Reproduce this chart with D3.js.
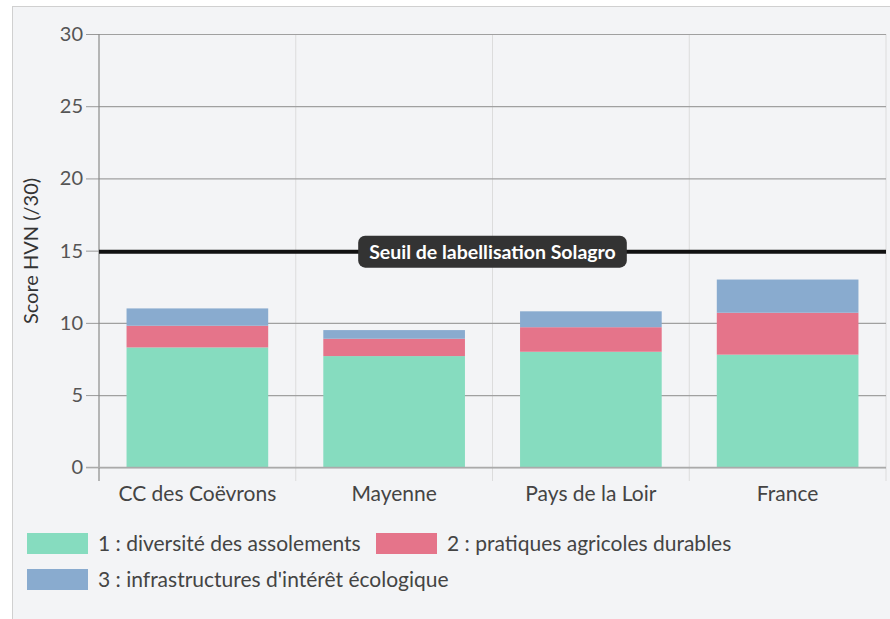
<!DOCTYPE html>
<html><head><meta charset="utf-8">
<script src="https://cdn.jsdelivr.net/npm/d3@7"></script>
<style>
html,body{margin:0;padding:0;background:#fff;}
svg{display:block;font-family:Lato, "Open Sans", sans-serif;}
</style></head>
<body><svg id="c" width="890" height="619"></svg>
<script>
const categories = ["CC des Coëvrons", "Mayenne", "Pays de la Loir", "France"];
const seriesNames = ["1 : diversité des assolements", "2 : pratiques agricoles durables", "3 : infrastructures d'intérêt écologique"];
const diversite = [8.3, 7.7, 8.0, 7.8];
const pratiques = [1.5, 1.2, 1.7, 2.9];
const infrastructures = [1.2, 0.6, 1.1, 2.3];
const yTicks = [0, 5, 10, 15, 20, 25, 30];
const threshold = 15;
const thresholdLabel = "Seuil de labellisation Solagro";
const yTitle = "Score HVN (/30)";
const colors = ["#86dcbf", "#e5748a", "#89abcf"];

const svg = d3.select("#c");
svg.append("rect").attr("x", 12.5).attr("y", 6.5).attr("width", 890).attr("height", 620)
  .attr("fill", "#f3f4f6").attr("stroke", "#d0d0d0");

const m = {l: 99, r: 886, t: 34, b: 467.3};
const x = d3.scaleBand().domain(categories).range([m.l, m.r]).paddingInner(0.28).paddingOuter(0.14);
const xb = d3.scaleBand().domain(categories).range([m.l, m.r]);
const y = d3.scaleLinear().domain([0, 30]).range([m.b, m.t]);

const rows = categories.map((c, i) => ({cat: c, s0: diversite[i], s1: pratiques[i], s2: infrastructures[i]}));
const stack = d3.stack().keys(["s0", "s1", "s2"])(rows);

// vertical grid lines (band boundaries)
const g = svg.append("g");
categories.forEach((c, i) => {
  const xx = xb(c) + xb.bandwidth();
  g.append("line").attr("x1", xx).attr("x2", xx).attr("y1", m.t).attr("y2", 481)
    .attr("stroke", "#dcdcdc").attr("stroke-width", 1);
});

// horizontal grid
const yAxis = d3.axisLeft(y).tickValues(yTicks).tickSize(13).tickPadding(3);
const ya = svg.append("g").attr("transform", `translate(${m.l},0)`).call(yAxis);
ya.select(".domain").remove();
ya.selectAll(".tick line").attr("stroke", "#999");
ya.selectAll(".tick text").attr("fill", "#555").attr("font-size", 20).attr("font-family", "Lato");
ya.selectAll(".tick").append("line").attr("x1", 0).attr("x2", m.r - m.l).attr("stroke", "#a0a0a0").attr("stroke-width", 1.2);

// bars
stack.forEach((layer, k) => {
  svg.append("g").attr("fill", colors[k]).selectAll("rect").data(layer).join("rect")
    .attr("x", d => x(d.data.cat)).attr("width", x.bandwidth())
    .attr("y", d => y(d[1])).attr("height", d => y(d[0]) - y(d[1]));
});

// y axis line
svg.append("line").attr("x1", m.l).attr("x2", m.l).attr("y1", m.t).attr("y2", 481).attr("stroke", "#8a8a8a").attr("stroke-width", 1.2);
// baseline
svg.append("line").attr("x1", m.l - 13).attr("x2", m.r).attr("y1", y(0)).attr("y2", y(0)).attr("stroke", "#aaa").attr("stroke-width", 1.2);

// x labels
const xa = svg.append("g").attr("transform", `translate(0,${m.b})`)
  .call(d3.axisBottom(xb).tickSize(0).tickPadding(19));
xa.select(".domain").remove();
xa.selectAll("text").attr("fill", "#444").attr("font-size", 21).attr("font-family", "Lato");

// threshold
svg.append("line").attr("x1", m.l).attr("x2", m.r).attr("y1", y(threshold) + 1).attr("y2", y(threshold) + 1)
  .attr("stroke", "#111").attr("stroke-width", 4);
const cx = 492.5;
const lbl = svg.append("g");
const t = lbl.append("text").attr("x", cx).attr("y", y(threshold) + 8).attr("text-anchor", "middle")
  .attr("fill", "#fff").attr("font-weight", "bold").attr("font-size", 19.5).attr("font-family", "Lato")
  .text(thresholdLabel);
const bb = t.node().getBBox();
lbl.insert("rect", "text").attr("x", bb.x - 11).attr("y", y(threshold) - 15).attr("width", bb.width + 22).attr("height", 32)
  .attr("rx", 7).attr("fill", "#333");

// y title
svg.append("text").attr("transform", `translate(38,${251}) rotate(-90)`).attr("text-anchor", "middle")
  .attr("fill", "#333").attr("font-size", 20).attr("font-family", "Lato").text(yTitle);

// legend
const legPos = [[27, 533], [376, 533], [27, 569]];
seriesNames.forEach((n, i) => {
  const [lx, ly] = legPos[i];
  svg.append("rect").attr("x", lx).attr("y", ly).attr("width", 61).attr("height", 21).attr("fill", colors[i]);
  svg.append("text").attr("x", lx + 71).attr("y", ly + 17.5).attr("fill", "#444").attr("font-size", 21)
    .attr("font-family", "Lato").text(n);
});
</script></body></html>
